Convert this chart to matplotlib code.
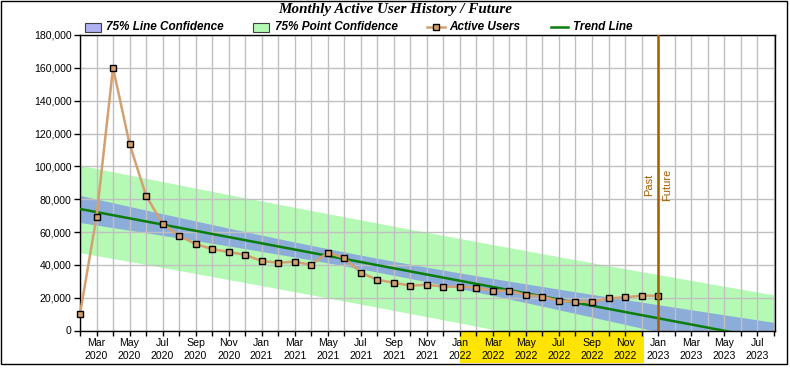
import numpy as np
import matplotlib
matplotlib.use('Agg')
import matplotlib.pyplot as plt
from matplotlib.patches import Rectangle
from matplotlib.lines import Line2D
import matplotlib.transforms as mtransforms

# ---------------- data ----------------
# month index 0 = Feb 2020 ... 35 = Jan 2023
data_months = ['Feb 2020', 'Mar 2020', 'Apr 2020', 'May 2020', 'Jun 2020', 'Jul 2020',
               'Aug 2020', 'Sep 2020', 'Oct 2020', 'Nov 2020', 'Dec 2020', 'Jan 2021',
               'Feb 2021', 'Mar 2021', 'Apr 2021', 'May 2021', 'Jun 2021', 'Jul 2021',
               'Aug 2021', 'Sep 2021', 'Oct 2021', 'Nov 2021', 'Dec 2021', 'Jan 2022',
               'Feb 2022', 'Mar 2022', 'Apr 2022', 'May 2022', 'Jun 2022', 'Jul 2022',
               'Aug 2022', 'Sep 2022', 'Oct 2022', 'Nov 2022', 'Dec 2022', 'Jan 2023']
active_users = [10000, 69300, 160000, 113700, 82100, 65000,
                57700, 52700, 49600, 47800, 46100, 42300,
                41300, 41900, 40000, 47400, 44300, 35200,
                30900, 29100, 27300, 27900, 26700, 26700,
                26100, 24200, 24200, 21800, 20600, 18100,
                17500, 17500, 19600, 20200, 21200, 21200]
tick_labels = ['Mar\n2020', 'May\n2020', 'Jul\n2020', 'Sep\n2020', 'Nov\n2020',
               'Jan\n2021', 'Mar\n2021', 'May\n2021', 'Jul\n2021', 'Sep\n2021', 'Nov\n2021',
               'Jan\n2022', 'Mar\n2022', 'May\n2022', 'Jul\n2022', 'Sep\n2022', 'Nov\n2022',
               'Jan\n2023', 'Mar\n2023', 'May\n2023', 'Jul\n2023']
n_axis_months = 43          # Feb 2020 .. Aug 2023
past_future_month = 35      # Jan 2023
highlight_months = (23, 34) # Jan 2022 .. Dec 2022
confidence = 0.75
t_value = 1.168             # two-sided 75%, df = 34
y_ticks = [0, 20000, 40000, 60000, 80000, 100000, 120000, 140000, 160000, 180000]

# ---------------- style ----------------
W, H = 790, 372
SANS = ['Liberation Sans', 'DejaVu Sans']
SERIF = ['Liberation Serif', 'DejaVu Serif']
C_LINECONF = '#8CACDA'
C_LINECONF_LEG = '#B0B0F2'
C_POINTCONF = '#B4FAB4'
C_USERS = '#D4A071'
C_TREND = '#0A7D0A'
C_PF = '#A65E00'
C_GRID = '#C0C0C0'
C_YELLOW = '#FFE400'

def fx(x):
    return x / W

def fy(y):
    return 1 - y / H

fig = plt.figure(figsize=(W / 100, H / 100), dpi=100)
fig.patch.set_facecolor('white')

left, right, top, bottom = 80, 775, 35, 330.5
ax = fig.add_axes([fx(left), fy(bottom), fx(right - left), (bottom - top) / H])

x = np.arange(len(active_users))
y = np.array(active_users, dtype=float)
n = len(x)

# regression & confidence bands
slope, intercept = np.polyfit(x, y, 1)
resid = y - (intercept + slope * x)
s = np.sqrt(np.sum(resid ** 2) / (n - 2))
xbar = x.mean()
sxx = np.sum((x - xbar) ** 2)

x_end = 42.08
xs = np.linspace(0, x_end, 400)
trend = intercept + slope * xs
line_hw = t_value * s * np.sqrt(1 / n + (xs - xbar) ** 2 / sxx)
point_hw = t_value * s * np.sqrt(1 + 1 / n + (xs - xbar) ** 2 / sxx)

ax.fill_between(xs, trend - point_hw, trend + point_hw, color=C_POINTCONF, lw=0, zorder=1)
ax.fill_between(xs, trend - line_hw, trend + line_hw, color=C_LINECONF, lw=0, zorder=1.1)
ax.plot(xs, trend, color=C_TREND, lw=1.8, zorder=3)
ax.plot(x, y, color=C_USERS, lw=1.8, marker='s', ms=4.4, mfc=C_USERS, mec='black',
        mew=1.0, zorder=4, clip_on=False)
ax.axvline(past_future_month, color=C_PF, lw=1.8, zorder=5)
ax.text(past_future_month - 0.25, 89000, 'Past', rotation=90, ha='right', va='center',
        color=C_PF, fontsize=8, family=SANS, zorder=6)
ax.text(past_future_month + 0.25, 89000, 'Future', rotation=90, ha='left', va='center',
        color=C_PF, fontsize=8, family=SANS, zorder=6)

ax.set_xlim(0, x_end)
ax.set_ylim(0, 180000)
ax.set_axisbelow('line')
all_ticks = np.arange(0, n_axis_months)
labels_full = [''] * n_axis_months
for i, lab in enumerate(tick_labels):
    labels_full[1 + 2 * i] = lab
ax.set_xticks(all_ticks)
ax.set_xticklabels(labels_full)
ax.set_yticks(y_ticks)
ax.set_yticklabels([f'{v:,}' for v in y_ticks])
ax.grid(True, which='major', color=C_GRID, lw=1.0)
ax.tick_params(axis='x', direction='out', length=3.5, width=1, color='black',
               labelsize=7.6, pad=2)
ax.tick_params(axis='y', direction='out', length=4, width=1, color='black', labelsize=7.6, pad=2)
for lab in ax.get_xticklabels() + ax.get_yticklabels():
    lab.set_family(SANS)
    lab.set_linespacing(1.3)
for sp in ax.spines.values():
    sp.set_color('black')
    sp.set_linewidth(1.0)

# yellow highlight behind labels
trans = mtransforms.blended_transform_factory(ax.transData, ax.transAxes)
ax.add_patch(Rectangle((highlight_months[0], -0.111), highlight_months[1] + 0.15 - highlight_months[0],
                       0.108, transform=trans, color=C_YELLOW, lw=0, clip_on=False, zorder=-1))

# title
fig.text(fx(395), fy(10), 'Monthly Active User History / Future', ha='center', va='center',
         family=SERIF, fontsize=10.9, fontweight='bold', fontstyle='italic')

# legend (manual)
leg_y = 27
fs_leg = 8.5
def leg_text(x0, s_):
    fig.text(fx(x0), fy(leg_y), s_, ha='left', va='center', family=SANS, fontsize=fs_leg,
             fontweight='bold', fontstyle='italic')

fig.add_artist(Rectangle((fx(85), fy(31.5)), fx(16), 8.5 / H, facecolor=C_LINECONF_LEG,
                         edgecolor='#404040', lw=0.8, transform=fig.transFigure))
leg_text(106, '75% Line Confidence')
fig.add_artist(Rectangle((fx(253), fy(31.5)), fx(16), 8.5 / H, facecolor=C_POINTCONF,
                         edgecolor='#404040', lw=0.8, transform=fig.transFigure))
leg_text(275, '75% Point Confidence')
fig.add_artist(Line2D([fx(427), fx(445)], [fy(leg_y), fy(leg_y)], color=C_USERS, lw=1.8,
                      transform=fig.transFigure))
fig.add_artist(Line2D([fx(436)], [fy(leg_y)], marker='s', ms=4.4, mfc=C_USERS, mec='black',
                      mew=1.0, transform=fig.transFigure))
leg_text(449, 'Active Users')
fig.add_artist(Line2D([fx(551), fx(568)], [fy(leg_y), fy(leg_y)], color=C_TREND, lw=1.8,
                      transform=fig.transFigure))
leg_text(573, 'Trend Line')

# outer border
fig.add_artist(Rectangle((fx(0.5), fy(364)), fx(786.5), 363.5 / H, facecolor='none',
                         edgecolor='black', lw=1.0, transform=fig.transFigure))

fig.savefig('out.png', dpi=100, facecolor='white')
